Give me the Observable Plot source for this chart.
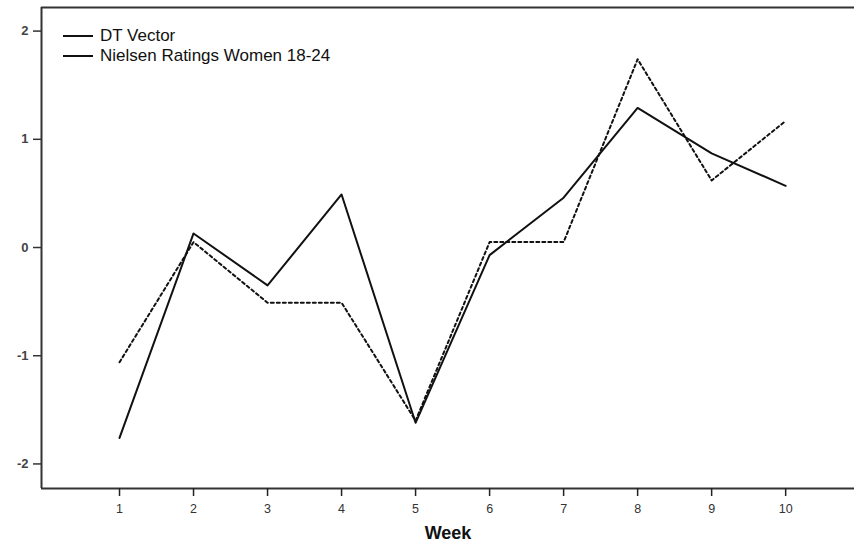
<!DOCTYPE html>
<html>
<head>
<meta charset="utf-8">
<script src="https://cdn.jsdelivr.net/npm/d3@7"></script>
<script src="https://cdn.jsdelivr.net/npm/@observablehq/plot@0.6"></script>
<style>
  html, body { margin: 0; padding: 0; background: #fff; }
  #wrap { position: relative; width: 854px; height: 542px; font-family: "Liberation Sans", Arial, sans-serif; }
  #legend { position: absolute; left: 63px; top: 26px; font-size: 17px; color: #111; line-height: 20px; }
  #legend .row { display: flex; align-items: center; }
  #legend .sw { width: 30px; height: 0; border-top: 2.5px solid #111; margin-right: 7px; }
</style>
</head>
<body>
<div id="wrap"><div id="legend"></div></div>
<script>
const weeks = [1, 2, 3, 4, 5, 6, 7, 8, 9, 10];
const dtVector = [-1.76, 0.13, -0.35, 0.49, -1.62, -0.07, 0.46, 1.29, 0.87, 0.57];
const nielsen = [-1.06, 0.05, -0.51, -0.51, -1.60, 0.05, 0.05, 1.74, 0.62, 1.17];
const seriesNames = ["DT Vector", "Nielsen Ratings Women 18-24"];
const yTicks = [-2, -1, 0, 1, 2];
const xDomain = [-0.054, 10.93];
const yDomain = [-2.227, 2.218];

const data = [
  ...weeks.map((w, i) => ({week: w, value: dtVector[i], series: seriesNames[0]})),
  ...weeks.map((w, i) => ({week: w, value: nielsen[i], series: seriesNames[1]}))
];

const chart = Plot.plot({
  width: 854,
  height: 542,
  marginLeft: 41,
  marginTop: 7,
  marginRight: 0,
  marginBottom: 54,
  style: {fontFamily: "Liberation Sans, Arial, sans-serif", background: "#fff"},
  x: {domain: xDomain},
  y: {domain: yDomain},
  marks: [
    Plot.ruleY([yDomain[1]], {stroke: "#333", strokeWidth: 2}),
    Plot.ruleY([yDomain[0]], {stroke: "#333", strokeWidth: 2}),
    Plot.ruleX([xDomain[0]], {stroke: "#333", strokeWidth: 2}),
    Plot.axisY({ticks: yTicks, tickSize: 8, tickPadding: 5, tickFormat: d => String(d).replace("−", "-"), fontSize: 13, fontWeight: "bold", fill: "#444", stroke: "#333", strokeWidth: 1.5, label: null}),
    Plot.axisX({ticks: weeks, tickSize: 8, tickPadding: 8, fontSize: 12.5, fill: "#333", stroke: "#222", strokeWidth: 1.5, label: null}),
    Plot.text(["Week"], {frameAnchor: "bottom", dy: 50, fontSize: 18, fontWeight: "bold", fill: "#111"}),
    Plot.line(data.filter(d => d.series === seriesNames[1]), {x: "week", y: "value", stroke: "#111", strokeWidth: 2, strokeDasharray: "3,3"}),
    Plot.line(data.filter(d => d.series === seriesNames[0]), {x: "week", y: "value", stroke: "#111", strokeWidth: 2})
  ]
});

const wrap = document.getElementById("wrap");
wrap.insertBefore(chart, wrap.firstChild);
chart.style.position = "absolute";
chart.style.left = "0";
chart.style.top = "0";

const legend = document.getElementById("legend");
seriesNames.forEach(name => {
  const row = document.createElement("div");
  row.className = "row";
  const sw = document.createElement("span");
  sw.className = "sw";
  const t = document.createElement("span");
  t.textContent = name;
  row.appendChild(sw);
  row.appendChild(t);
  legend.appendChild(row);
});
</script>
</body>
</html>
